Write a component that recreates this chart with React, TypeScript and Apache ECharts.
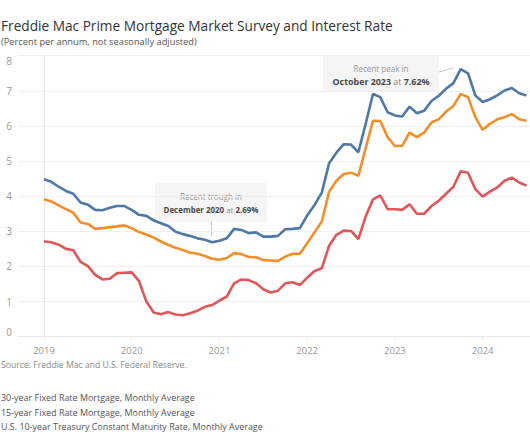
import React, { useEffect, useRef } from "react";
import * as echarts from "echarts";

const startYear = 2019;
const yearTicks = [0, 12, 24, 36, 48, 60];
const yTicks = [0, 1, 2, 3, 4, 5, 6, 7, 8];

// Monthly averages, Jan 2019 .. Jul 2024
const frm30 = [
  4.48, 4.41, 4.27, 4.15, 4.07, 3.82, 3.76, 3.61, 3.60, 3.67, 3.72, 3.72,
  3.61, 3.47, 3.44, 3.31, 3.23, 3.15, 2.99, 2.92, 2.87, 2.80, 2.76, 2.69,
  2.73, 2.80, 3.07, 3.04, 2.95, 2.97, 2.85, 2.85, 2.87, 3.06, 3.07, 3.09,
  3.45, 3.75, 4.10, 4.94, 5.24, 5.48, 5.47, 5.25, 6.06, 6.91, 6.82, 6.39,
  6.30, 6.27, 6.55, 6.36, 6.43, 6.71, 6.86, 7.06, 7.22, 7.62, 7.50, 6.87,
  6.68, 6.76, 6.87, 7.01, 7.08, 6.93, 6.87,
];
const frm15 = [
  3.91, 3.85, 3.74, 3.63, 3.53, 3.25, 3.21, 3.07, 3.09, 3.12, 3.14, 3.17,
  3.09, 2.98, 2.91, 2.82, 2.71, 2.61, 2.53, 2.47, 2.39, 2.36, 2.30, 2.22,
  2.19, 2.24, 2.38, 2.35, 2.27, 2.26, 2.18, 2.17, 2.16, 2.28, 2.36, 2.36,
  2.66, 2.97, 3.28, 4.13, 4.44, 4.63, 4.67, 4.58, 5.37, 6.15, 6.14, 5.68,
  5.43, 5.43, 5.81, 5.68, 5.81, 6.10, 6.19, 6.41, 6.57, 6.91, 6.82, 6.25,
  5.89, 6.06, 6.19, 6.25, 6.34, 6.19, 6.15,
];
const treasury10 = [
  2.71, 2.69, 2.62, 2.50, 2.46, 2.13, 2.01, 1.76, 1.63, 1.65, 1.81, 1.82,
  1.83, 1.58, 1.00, 0.69, 0.64, 0.70, 0.63, 0.61, 0.67, 0.74, 0.85, 0.90,
  1.03, 1.14, 1.52, 1.63, 1.61, 1.52, 1.35, 1.26, 1.31, 1.52, 1.55, 1.47,
  1.68, 1.87, 1.95, 2.59, 2.90, 3.02, 3.01, 2.78, 3.42, 3.91, 4.02, 3.63,
  3.63, 3.61, 3.77, 3.50, 3.50, 3.72, 3.87, 4.07, 4.27, 4.71, 4.67, 4.20,
  3.99, 4.13, 4.25, 4.44, 4.53, 4.39, 4.30,
];

const seriesNames = [
  "30-year Fixed Rate Mortgage, Monthly Average",
  "15-year Fixed Rate Mortgage, Monthly Average",
  "U.S. 10-year Treasury Constant Maturity Rate, Monthly Average",
];
const seriesColors = ["#4e79a7", "#f28e2b", "#e15759"];

const FAMILY = "'Open Sans'";
const FONT = "'Open Sans', 'Noto Sans', sans-serif";

function measure(text: string, weight = "normal"): number {
  const ctx = document.createElement("canvas").getContext("2d");
  if (!ctx) return text.length * 11;
  ctx.font = `${weight} 20px ${FAMILY}`;
  return ctx.measureText(text).width;
}
function fitSize(parts: [string, string][], target: number, max = 20): number {
  const w = parts.reduce((s, [t, wt]) => s + measure(t, wt), 0);
  return Math.min(max, (20 * target) / w);
}

export default function App() {
  const ref = useRef<HTMLDivElement>(null);
  useEffect(() => {
    if (!ref.current) return;
    const chart = echarts.init(ref.current, null, { renderer: "svg" });
    const toPairs = (arr: number[]) => arr.map((v, i) => [i, v]);
    const allSeries = [frm30, frm15, treasury10];

    const title = "Freddie Mac Prime Mortgage Market Survey and Interest Rate";
    const subtitle = "(Percent per annum, not seasonally adjusted)";
    const source = "Source: Freddie Mac and U.S. Federal Reserve.";
    const titleSize = fitSize([[title, "normal"]], 392);
    const subSize = fitSize([[subtitle, "normal"]], 196);
    const srcSize = fitSize([[source, "normal"]], 186);
    const legSize = fitSize([[seriesNames[2], "normal"]], 262);

    const leftText = (text: string, y: number, size: number, fill: string) => ({
      type: "text",
      x: 1,
      y,
      style: {
        text,
        align: "left",
        verticalAlign: "middle",
        fill,
        fontSize: size,
        fontFamily: FONT,
      },
    });

    const annot = (
      l1: string,
      bold1: string,
      bold2: string,
      w1: number,
      w2: number,
      box: { x: number; y: number; w: number; h: number },
      line: number[]
    ) => {
      const s1 = fitSize([[l1, "normal"]], w1);
      const s2 = fitSize(
        [
          [bold1, "bold"],
          [" at ", "normal"],
          [bold2, "bold"],
        ],
        w2
      );
      return {
        type: "group",
        z: 100,
        children: [
          {
            type: "line",
            shape: { x1: line[0], y1: line[1], x2: line[2], y2: line[3] },
            style: { stroke: "#c8c8c8", lineWidth: 1 },
          },
          {
            type: "rect",
            shape: { x: box.x, y: box.y, width: box.w, height: box.h },
            style: { fill: "rgba(244,244,244,0.93)" },
          },
          {
            type: "text",
            x: box.x + box.w / 2,
            y: box.y + 13.5,
            style: {
              text: l1,
              align: "center",
              verticalAlign: "middle",
              fill: "#999999",
              fontSize: s1,
              fontFamily: FONT,
            },
          },
          {
            type: "text",
            x: box.x + box.w / 2,
            y: box.y + 26.5,
            style: {
              text: `{b|${bold1}}{n| at }{b|${bold2}}`,
              align: "center",
              verticalAlign: "middle",
              fill: "#8a8a8a",
              fontSize: s2,
              fontFamily: FONT,
              rich: {
                b: { fontWeight: "bold", fill: "#4a4a4a", fontSize: s2, fontFamily: FONT },
                n: { fill: "#8a8a8a", fontSize: s2, fontFamily: FONT },
              },
            },
          },
        ],
      };
    };

    chart.setOption({
      animation: false,
      textStyle: { fontFamily: FONT },
      grid: {
        left: 18,
        right: 0,
        top: 55.7,
        bottom: 105.3,
        outerBoundsMode: "none",
        containLabel: false,
      },
      xAxis: {
        type: "value",
        min: -3.557,
        max: 66.48,
        splitLine: { show: false },
        axisLine: { show: true, lineStyle: { color: "#e8e8e8", width: 1 } },
        axisTick: {
          show: true,
          customValues: yearTicks,
          length: 3,
          lineStyle: { color: "#e8e8e8" },
        },
        axisLabel: {
          customValues: yearTicks,
          formatter: (v: number) => String(startYear + Math.round(v / 12)),
          color: "#9a9a9a",
          fontSize: 9.5,
          margin: 9,
          fontFamily: FONT,
        },
      },
      yAxis: {
        type: "value",
        min: 0,
        max: 8,
        interval: 1,
        axisLine: { show: true, lineStyle: { color: "#e8e8e8", width: 1 } },
        axisTick: { show: false },
        splitLine: { show: true, lineStyle: { color: "#efefef", width: 1 } },
        axisLabel: {
          color: "#9a9a9a",
          fontSize: 10,
          margin: 6,
          fontFamily: FONT,
          verticalAlignMinLabel: "bottom",
          verticalAlignMaxLabel: "top",
          formatter: (v: number) => (yTicks.includes(v) ? String(v) : ""),
        },
      },
      series: allSeries.map((arr, k) => ({
        name: seriesNames[k],
        type: "line",
        data: toPairs(arr),
        showSymbol: false,
        symbol: "none",
        lineStyle: { color: seriesColors[k], width: 2.6 },
        itemStyle: { color: seriesColors[k] },
        z: 3 - k,
      })),
      graphic: [
        leftText(title, 25, titleSize, "#333333"),
        leftText(subtitle, 41.5, subSize, "#555555"),
        leftText(source, 365, srcSize, "#8a8a8a"),
        leftText(seriesNames[0], 397, legSize, "#555555"),
        leftText(seriesNames[1], 412, legSize, "#555555"),
        leftText(seriesNames[2], 426.5, legSize, "#555555"),
        annot(
          "Recent trough in",
          "December 2020",
          "2.69%",
          62,
          95,
          { x: 155, y: 183, w: 112, h: 39 },
          [211.5, 222, 211.5, 236]
        ),
        annot(
          "Recent peak in",
          "October 2023",
          "7.62%",
          55,
          97,
          { x: 323, y: 55, w: 116, h: 37 },
          [439, 72, 453, 68]
        ),
      ],
    });
    return () => chart.dispose();
  }, []);
  return <div ref={ref} style={{ width: 530, height: 442, position: "absolute", left: 0, top: 0 }} />;
}
